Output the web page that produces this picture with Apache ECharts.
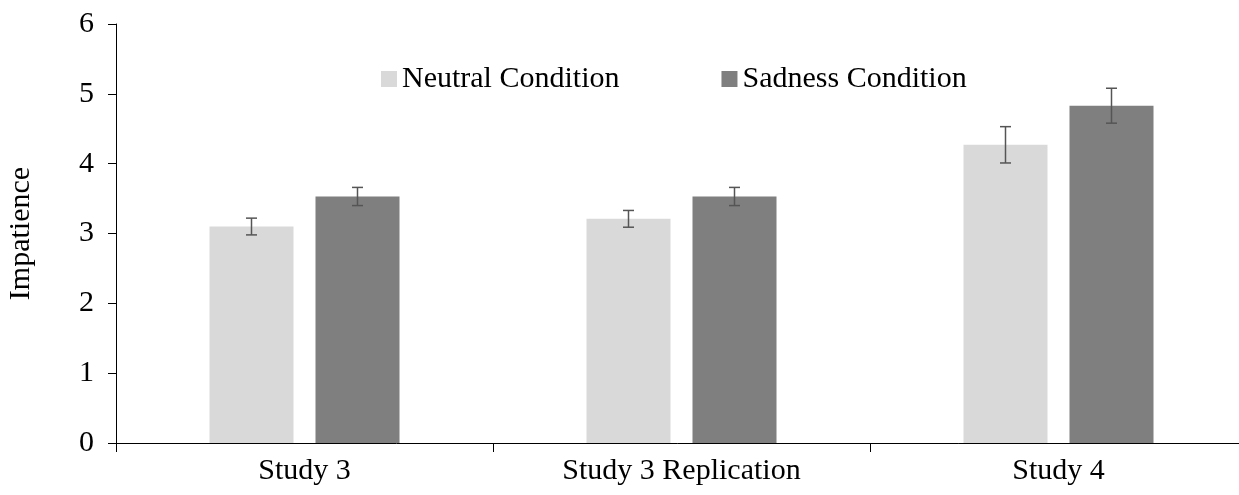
<!DOCTYPE html>
<html>
<head>
<meta charset="utf-8">
<script src="https://cdn.jsdelivr.net/npm/echarts@6/dist/echarts.min.js"></script>
<style>
  html, body { margin: 0; padding: 0; background: #fff; }
  #chart { width: 1239px; height: 495px; }
</style>
</head>
<body>
<div id="chart"></div>
<script>
const categories = ['Study 3', 'Study 3 Replication', 'Study 4']
const neutral = [3.10, 3.21, 4.27]
const sadness = [3.53, 3.53, 4.83]
const neutralErr = [0.12, 0.12, 0.26]
const sadnessErr = [0.13, 0.13, 0.25]
const yTicks = [0, 1, 2, 3, 4, 5, 6]

const font = '"Liberation Serif", "DejaVu Serif", serif'
const barW = 84
const gap = 22
const shift = (barW + gap) / 2

// error bars drawn as a custom series, offset to each bar's centre
function errSeries(vals, errs, dx) {
  return {
    type: 'custom',
    silent: true,
    z: 5,
    data: vals.map((v, i) => [i, v, errs[i]]),
    renderItem(params, api) {
      const c = api.coord([api.value(0), api.value(1) + api.value(2)])
      const b = api.coord([api.value(0), api.value(1) - api.value(2)])
      const x = c[0] + dx
      const cap = 5.5
      const style = { stroke: '#555555', lineWidth: 1.5 }
      return {
        type: 'group',
        children: [
          { type: 'line', shape: { x1: x, y1: c[1], x2: x, y2: b[1] }, style },
          { type: 'line', shape: { x1: x - cap, y1: c[1], x2: x + cap, y2: c[1] }, style },
          { type: 'line', shape: { x1: x - cap, y1: b[1], x2: x + cap, y2: b[1] }, style }
        ]
      }
    }
  }
}

const chart = echarts.init(document.getElementById('chart'))
const option = {
  animation: false,
  textStyle: { fontFamily: font },
  legend: {
    data: ['Neutral Condition', 'Sadness Condition'],
    left: 376,
    top: 59,
    icon: 'rect',
    itemWidth: 16,
    itemHeight: 16,
    itemGap: 102,
    textStyle: { fontFamily: font, fontSize: 30, color: '#000' }
  },
  grid: {
    left: 116,
    right: -8,
    top: 24,
    bottom: 52,
    outerBoundsMode: 'none'
  },
  xAxis: {
    type: 'category',
    data: categories,
    axisLine: { lineStyle: { color: '#000', width: 1 } },
    axisTick: { show: true, length: 9, lineStyle: { color: '#000' } },
    axisLabel: { fontFamily: font, fontSize: 30, color: '#000', margin: 13 }
  },
  yAxis: {
    type: 'value',
    min: 0,
    max: 6,
    interval: 1,
    name: 'Impatience',
    nameLocation: 'middle',
    nameGap: 80,
    nameRotate: 90,
    nameTextStyle: { fontFamily: font, fontSize: 30, color: '#000' },
    axisLine: { show: true, lineStyle: { color: '#000', width: 1 } },
    axisTick: { show: true, length: 8, lineStyle: { color: '#000' } },
    axisLabel: {
      fontFamily: font, fontSize: 30, color: '#000', margin: 22,
      formatter: v => (yTicks.includes(v) ? String(v) : '')
    },
    splitLine: { show: false }
  },
  series: [
    {
      name: 'Neutral Condition',
      type: 'bar',
      data: neutral,
      barWidth: barW,
      barGap: (gap / barW * 100) + '%',
      itemStyle: { color: '#d9d9d9' }
    },
    {
      name: 'Sadness Condition',
      type: 'bar',
      data: sadness,
      barWidth: barW,
      itemStyle: { color: '#7f7f7f' }
    },
    errSeries(neutral, neutralErr, -shift),
    errSeries(sadness, sadnessErr, shift)
  ]
}
chart.setOption(option)
</script>
</body>
</html>
